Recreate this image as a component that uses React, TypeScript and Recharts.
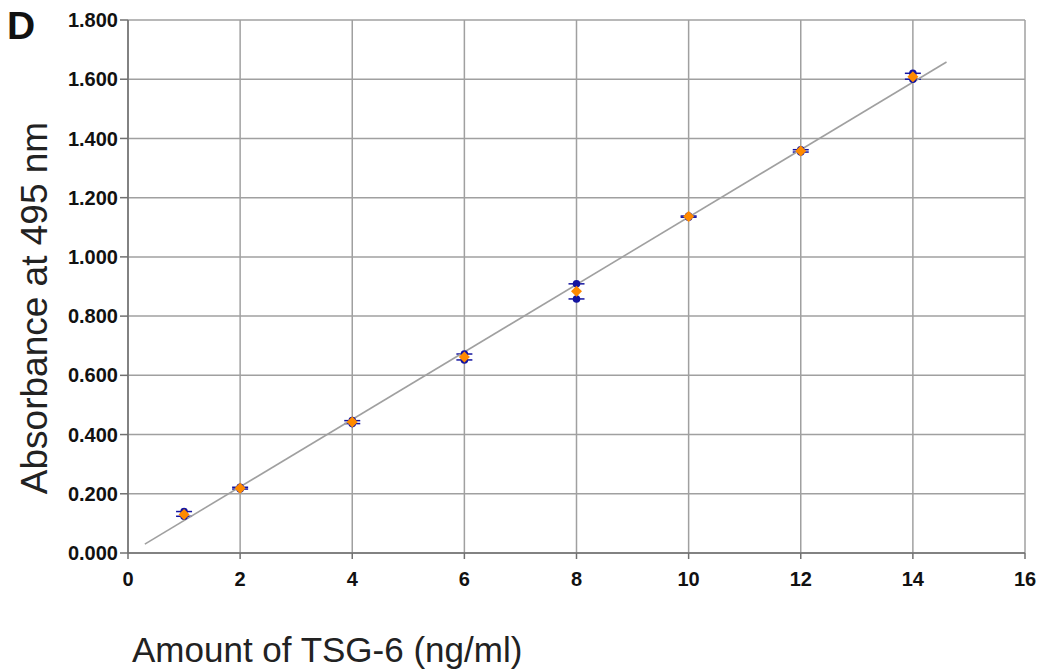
import React from 'react';
import { ComposedChart, Scatter, XAxis, YAxis, CartesianGrid, ErrorBar } from 'recharts';

// amounts of TSG-6 (ng/ml)
const amounts = [1, 2, 4, 6, 8, 10, 12, 14];
// absorbance at 495 nm: mean and the two replicate readings
const meanAbs = [0.130, 0.219, 0.442, 0.662, 0.884, 1.136, 1.358, 1.608];
const highAbs = [0.140, 0.222, 0.447, 0.672, 0.909, 1.138, 1.362, 1.620];
const lowAbs = [0.124, 0.216, 0.437, 0.652, 0.858, 1.134, 1.354, 1.600];

// linear trend line end points
const trendX = [0.3, 14.6];
const trendY = [0.03, 1.658];

const xTicks = [0, 2, 4, 6, 8, 10, 12, 14, 16];
const yTicks = [0, 0.2, 0.4, 0.6, 0.8, 1.0, 1.2, 1.4, 1.6, 1.8];

const meanData = amounts.map((x, i) => ({
    x,
    y: meanAbs[i],
    err: [meanAbs[i] - lowAbs[i], highAbs[i] - meanAbs[i]],
}));
const repData = amounts.flatMap((x, i) => [
    { x, y: highAbs[i] },
    { x, y: lowAbs[i] },
]);
const trendData = trendX.map((x, i) => ({ x, y: trendY[i] }));

const Diamond = (props: any) => {
    const { cx, cy } = props;
    const r = 5.5;
    return <polygon points={`${cx},${cy - r} ${cx + r},${cy} ${cx},${cy + r} ${cx - r},${cy}`} fill="#ff8a00" />;
};

const Dot = (props: any) => <circle cx={props.cx} cy={props.cy} r={3.8} fill="#1414a0" />;

const font = 'Arial, "Liberation Sans", sans-serif';

export default function App() {
    return (
        <div style={{ position: 'absolute', left: 0, top: 0, width: 1043, height: 672, background: '#fff', fontFamily: font }}>
            <ComposedChart
                width={1043}
                height={672}
                margin={{ top: 20, right: 18, left: 0, bottom: 0 }}
            >
                <CartesianGrid stroke="#a0a0a0" strokeWidth={1.5} />
                <XAxis
                    type="number"
                    dataKey="x"
                    domain={[0, 16]}
                    ticks={xTicks}
                    stroke="#707070"
                    strokeWidth={1.5}
                    tickSize={6}
                    tickMargin={13}
                    tick={{ fill: '#111', fontSize: 20, fontWeight: 'bold', fontFamily: font }}
                    height={119}
                />
                <YAxis
                    type="number"
                    dataKey="y"
                    domain={[0, 1.8]}
                    ticks={yTicks}
                    stroke="#707070"
                    strokeWidth={1.5}
                    tickSize={8}
                    tickMargin={2}
                    tickFormatter={(v: number) => v.toFixed(3)}
                    tick={{ fill: '#111', fontSize: 20, fontWeight: 'bold', fontFamily: font }}
                    width={128}
                />
                <Scatter
                    data={trendData}
                    line={{ stroke: '#a0a0a0', strokeWidth: 1.6 }}
                    shape={() => <g />}
                    isAnimationActive={false}
                />
                <Scatter data={repData} shape={Dot} isAnimationActive={false} />
                <Scatter data={meanData} shape={Diamond} isAnimationActive={false}>
                    <ErrorBar dataKey="err" direction="y" stroke="#1414a0" strokeWidth={1.5} width={8} />
                </Scatter>
            </ComposedChart>
            <div style={{ position: 'absolute', left: 7, top: 4, fontSize: 39, fontWeight: 'bold', color: '#111', lineHeight: '44px' }}>D</div>
            <div
                style={{
                    position: 'absolute',
                    left: 35 - 250,
                    top: 308 - 25,
                    width: 500,
                    height: 50,
                    lineHeight: '50px',
                    textAlign: 'center',
                    fontSize: 37,
                    color: '#222',
                    transform: 'rotate(-90deg)',
                    whiteSpace: 'nowrap',
                }}
            >
                Absorbance at 495 nm
            </div>
            <div style={{ position: 'absolute', left: 132, top: 630, fontSize: 35, lineHeight: '40px', color: '#222', whiteSpace: 'nowrap' }}>
                Amount of TSG-6 (ng/ml)
            </div>
        </div>
    );
}
